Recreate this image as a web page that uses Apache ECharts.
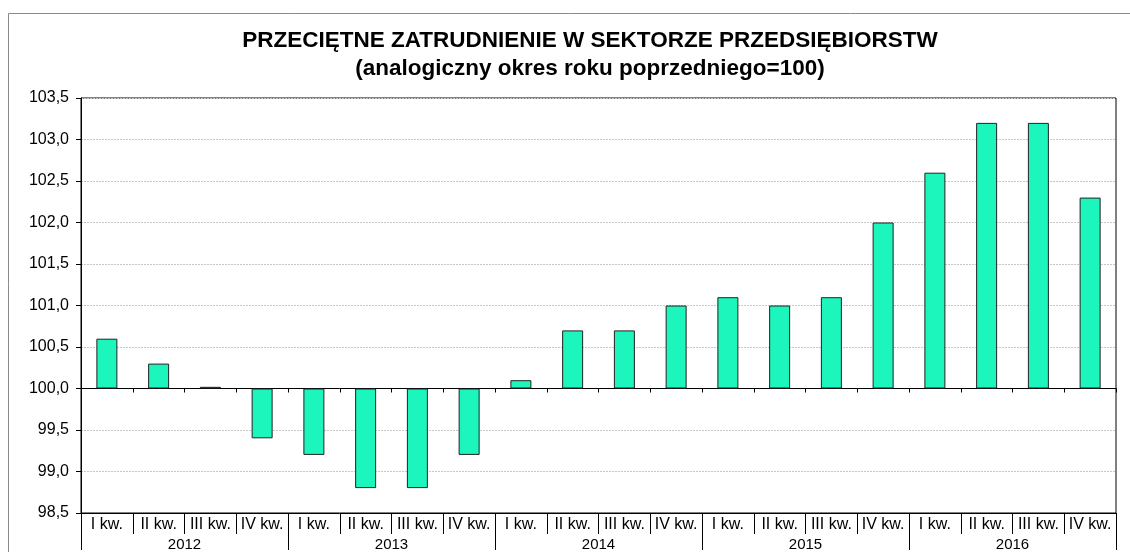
<!DOCTYPE html>
<html>
<head>
<meta charset="utf-8">
<script src="https://cdn.jsdelivr.net/npm/echarts@6/dist/echarts.min.js"></script>
<style>
	html, body { margin: 0; padding: 0; background: #fff; }
	#chart { width: 1130px; height: 552px; }
</style>
</head>
<body>
<div id="chart"></div>
<script>
	var quarters = ['I kw.', 'II kw.', 'III kw.', 'IV kw.',
		'I kw.', 'II kw.', 'III kw.', 'IV kw.',
		'I kw.', 'II kw.', 'III kw.', 'IV kw.',
		'I kw.', 'II kw.', 'III kw.', 'IV kw.',
		'I kw.', 'II kw.', 'III kw.', 'IV kw.'];
	var years = ['2012', '2013', '2014', '2015', '2016'];
	// wskaźnik, analogiczny okres roku poprzedniego = 100
	var values = [100.6, 100.3, 100.02, 99.4,
		99.2, 98.8, 98.8, 99.2,
		100.1, 100.7, 100.7, 101.0,
		101.1, 101.0, 101.1, 102.0,
		102.6, 103.2, 103.2, 102.3];
	var baseLine = 100;

	var chart = echarts.init(document.getElementById('chart'));
	var font = 'Liberation Sans, Arial, sans-serif';

	/*słupki rysowane od linii 100*/
	var barData = values.map(function(v) {
		return +(v - baseLine).toFixed(2);
	});

	var option = {
		animation: false,
		backgroundColor: '#fff',
		title: {
			text: 'PRZECIĘTNE ZATRUDNIENIE W SEKTORZE PRZEDSIĘBIORSTW\n(analogiczny okres roku poprzedniego=100)',
			left: 585,
			top: 22,
			textAlign: 'center',
			textStyle: {
				fontFamily: font,
				fontSize: 22.5,
				fontWeight: 'bold',
				color: '#000',
				lineHeight: 28
			}
		},
		graphic: [{
			type: 'rect',
			shape: { x: 8.5, y: 13.5, width: 1200, height: 600 },
			style: { fill: 'none', stroke: '#8a8a8a', lineWidth: 1 },
			silent: true,
			z: -1
		}],
		grid: {
			left: 81,
			right: 14,
			top: 98,
			bottom: 37,
			show: true,
			borderColor: '#000',
			borderWidth: 1
		},
		yAxis: {
			type: 'value',
			min: -1.5,
			max: 3.5,
			interval: 0.5,
			axisLine: { show: true, lineStyle: { color: '#000' } },
			axisTick: { show: true, length: 5, lineStyle: { color: '#000' } },
			axisLabel: {
				margin: 12,
				fontFamily: font,
				fontSize: 16,
				color: '#000',
				formatter: function(v) {
					return (v + baseLine).toFixed(1).replace('.', ',');
				}
			},
			splitLine: { show: true, lineStyle: { color: '#c6c6c6', type: [2, 1] } }
		},
		xAxis: [{
			type: 'category',
			data: quarters,
			position: 'bottom',
			axisLine: { onZero: true, lineStyle: { color: '#000' } },
			axisTick: { show: true, length: 4, interval: 0, lineStyle: { color: '#000' } },
			axisLabel: { show: false }
		}, {
			type: 'category',
			data: quarters,
			position: 'bottom',
			axisLine: { onZero: false, lineStyle: { color: '#000' } },
			axisTick: { show: true, length: 21, interval: 0, lineStyle: { color: '#000' } },
			axisLabel: {
				interval: 0,
				margin: 4,
				fontFamily: font,
				fontSize: 16,
				color: '#000'
			}
		}, {
			type: 'category',
			data: years,
			position: 'bottom',
			offset: 21,
			axisLine: { show: false, onZero: false },
			axisTick: { show: true, length: 16, interval: 0, lineStyle: { color: '#000' } },
			axisLabel: {
				interval: 0,
				margin: 3,
				fontFamily: font,
				fontSize: 15,
				color: '#000'
			}
		}],
		series: [{
			type: 'bar',
			xAxisIndex: 0,
			data: barData,
			barWidth: 21,
			itemStyle: {
				color: '#1cf5bb',
				borderColor: '#222',
				borderWidth: 1
			}
		}]
	};

	chart.setOption(option);
</script>
</body>
</html>
